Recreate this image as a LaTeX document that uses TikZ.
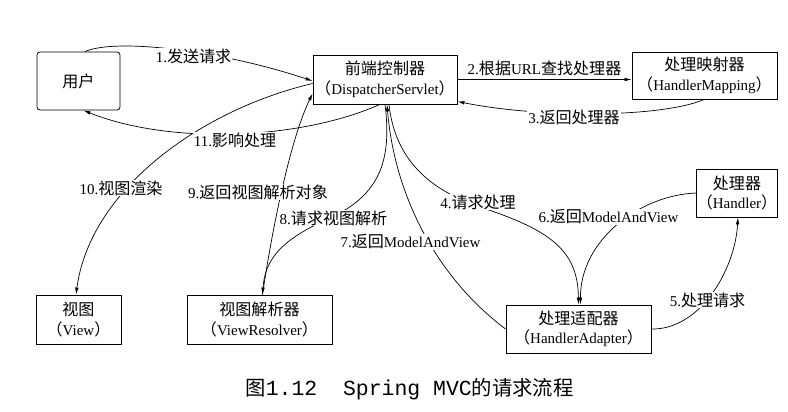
\documentclass[tikz,border=0pt]{standalone}
\usepackage{fontspec}
\setmainfont{Liberation Serif}
\newfontfamily\cjk[Scale=1.07]{Noto Sans CJK SC}
\newfontfamily\capmono[Scale=1.13]{Liberation Mono}
\usetikzlibrary{arrows.meta}
\newcommand{\zh}[1]{{\cjk #1}}
\tikzset{
  box/.style={draw, line width=0.8pt, align=center, inner sep=0pt,
    font=\fontsize{15}{19.5}\selectfont},
  flow/.style={->, line width=0.7pt},
  lbl/.style={fill=white, inner sep=1pt, font=\fontsize{15}{18}\selectfont}
}

\begin{document}
\begin{tikzpicture}[x=1pt, y=-1pt, >={Latex[length=7pt,width=3.6pt]}]
    \useasboundingbox (0,0) rectangle (788,412);
    % boxes
    \node[box, rounded corners=3pt, minimum width=83pt, minimum height=58pt] (user) at (78.5,81) {\zh{用户}};
    \node[box, minimum width=144pt, minimum height=49pt] (ds) at (385,79.5) {\zh{前端控制器}\\\zh{（}DispatcherServlet\zh{）}};
    \node[box, minimum width=145pt, minimum height=47pt] (hm) at (704.5,75.5) {\zh{处理映射器}\\\zh{（}HandlerMapping\zh{）}};
    \node[box, minimum width=80pt, minimum height=48pt] (handler) at (737,193) {\zh{处理器}\\\zh{（}Handler\zh{）}};
    \node[box, minimum width=145pt, minimum height=48pt] (ha) at (578.5,329) {\zh{处理适配器}\\\zh{（}HandlerAdapter\zh{）}};
    \node[box, minimum width=85pt, minimum height=49pt] (view) at (78.5,319.5) {\zh{视图}\\\zh{（}View\zh{）}};
    \node[box, minimum width=145pt, minimum height=49pt] (vr) at (259.5,319.5) {\zh{视图解析器}\\\zh{（}ViewResolver\zh{）}};
    % connectors
    \draw[flow] ([xshift=6.5pt]user.north) .. controls (115,38) and (220,50) .. ([yshift=-1.5pt]ds.west);
    \draw[flow] (ds.east) -- (ds.east -| hm.west)
      node[midway, above=2pt, lbl] (l2) {2.\zh{根据}URL\zh{查找处理器}};
    \draw[flow] (hm.south) .. controls (660,118) and (540,118) .. ([yshift=-22pt]ds.east);
    \draw[flow] ([xshift=-5pt]ds.south) .. controls (300,140) and (170,145) .. ([xshift=5pt]user.south);
    \draw[flow] ([yshift=-4pt]ds.west) .. controls (200,110) and (90,190) .. ([xshift=-2.5pt]view.north);
    \draw[flow] ([xshift=3pt]vr.north) .. controls (272,230) and (290,140) .. ([yshift=-14pt]ds.west);
    \draw[flow] (ds.south) .. controls (392,160) and (380,195) .. (330,218)
      .. controls (280,240) and (265,260) .. ([xshift=3pt]vr.north);
    \draw[flow] (ha.west) .. controls (440,280) and (395,200) .. ([xshift=2pt]ds.south);
    \draw[flow] ([xshift=4pt]ds.south) .. controls (395,160) and (430,190) .. (480,207)
      .. controls (550,230) and (578,250) .. (ha.north);
    \draw[flow] (handler.west) .. controls (640,195) and (580,240) .. ([xshift=2pt]ha.north);
    \draw[flow] (ha.east) .. controls (700,330) and (735,270) .. ([xshift=1pt]handler.south);
    % labels
    \node[lbl] (l1) at (193.5,56.5) {1.\zh{发送请求}};
    \node[lbl] (l3) at (574,117) {3.\zh{返回处理器}};
    \node[lbl] (l4) at (478,202) {4.\zh{请求处理}};
    \node[lbl] (l5) at (707.5,300) {5.\zh{处理请求}};
    \node[lbl] (l6) at (608.5,217) {6.\zh{返回}ModelAndView};
    \node[lbl] (l7) at (410.5,242) {7.\zh{返回}ModelAndView};
    \node[lbl] (l8) at (333.5,218) {8.\zh{请求视图解析}};
    \node[lbl] (l9) at (258,192) {9.\zh{返回视图解析对象}};
    \node[lbl] (l10) at (121,188) {10.\zh{视图渲染}};
    \node[lbl] (l11) at (235,140) {11.\zh{影响处理}};
    % caption
    \node[font=\fontsize{19}{22}\selectfont] (caption) at (409.5,389)
      {\zh{图}{\capmono 1.12\ \ Spring MVC}\zh{的请求流程}};
  \end{tikzpicture}
\end{document}
